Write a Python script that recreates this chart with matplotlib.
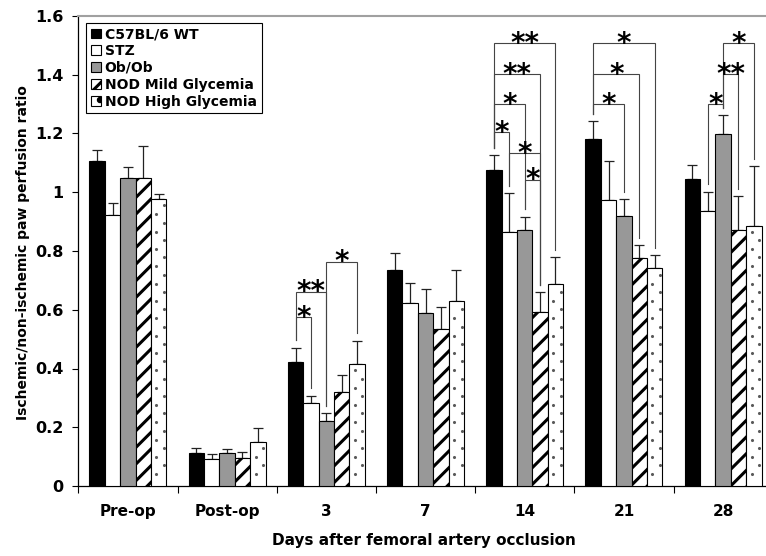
import numpy as np
import matplotlib
matplotlib.use("Agg")
import matplotlib.pyplot as plt
import matplotlib.patches as mpatches

# --- Data ---
groups = ["C57BL/6 WT", "STZ", "Ob/Ob", "NOD Mild Glycemia", "NOD High Glycemia"]
days = ["Pre-op", "Post-op", "3", "7", "14", "21", "28"]
ytick_labels = ["0", "0.2", "0.4", "0.6", "0.8", "1", "1.2", "1.4", "1.6"]

wt_mean = [1.105, 0.113, 0.421, 0.735, 1.077, 1.182, 1.045]
stz_mean = [0.921, 0.091, 0.284, 0.624, 0.864, 0.974, 0.935]
ob_mean = [1.047, 0.113, 0.221, 0.588, 0.871, 0.919, 1.198]
mild_mean = [1.047, 0.097, 0.319, 0.533, 0.593, 0.777, 0.871]
high_mean = [0.976, 0.150, 0.415, 0.629, 0.688, 0.742, 0.884]

wt_sem = [0.040, 0.017, 0.050, 0.059, 0.050, 0.059, 0.049]
stz_sem = [0.044, 0.018, 0.023, 0.066, 0.132, 0.133, 0.067]
ob_sem = [0.040, 0.012, 0.026, 0.083, 0.046, 0.057, 0.064]
mild_sem = [0.109, 0.020, 0.060, 0.076, 0.067, 0.043, 0.116]
high_sem = [0.018, 0.046, 0.080, 0.107, 0.091, 0.044, 0.205]

# significance brackets: (day index, group a, group b, bracket height, label)
brackets = [
    (2, 0, 1, 0.574, "*"), (2, 0, 2, 0.661, "**"), (2, 2, 4, 0.764, "*"),
    (4, 0, 4, 1.507, "**"), (4, 0, 3, 1.401, "**"), (4, 0, 2, 1.299, "*"),
    (4, 0, 1, 1.204, "*"), (4, 1, 3, 1.132, "*"), (4, 2, 3, 1.042, "*"),
    (5, 0, 4, 1.507, "*"), (5, 0, 3, 1.401, "*"), (5, 0, 2, 1.299, "*"),
    (6, 2, 4, 1.507, "*"), (6, 2, 3, 1.401, "**"), (6, 1, 2, 1.299, "*"),
]

means = [wt_mean, stz_mean, ob_mean, mild_mean, high_mean]
sems = [wt_sem, stz_sem, ob_sem, mild_sem, high_sem]

# --- Figure ---
plt.rcParams["font.family"] = ["DejaVu Sans"]
plt.rcParams["font.weight"] = "bold"

fig = plt.figure(figsize=(7.66, 5.56), dpi=100)
ax = fig.add_axes([78.3 / 766, 70 / 556, 694.4 / 766, 470 / 556])

x = np.arange(len(days)) + 0.5
w = 0.155

def set_hlw(patches, lw):
    for p in patches:
        if hasattr(p, "set_hatch_linewidth"):
            p.set_hatch_linewidth(lw)

def dot_texture(ax, pos, heights):
    # sparse staggered gray dots inside the "High Glycemia" bars
    step = 0.059
    for xc, h in zip(pos, heights):
        left = xc - w / 2
        for fx, y0 in ((0.35, 0.04), (0.85, 0.07)):
            ys = np.arange(y0, h - 0.012, step)
            ax.scatter(np.full(len(ys), left + fx * w), ys, s=5, color="#5a5a5a",
                       linewidths=0, zorder=3.5)

for j in range(5):
    pos = x + (j - 2) * w
    m = np.array(means[j])
    e = np.array(sems[j])
    ax.errorbar(pos, m, yerr=[np.zeros_like(e), e], fmt="none", ecolor="#222222",
                elinewidth=0.9, capsize=3.5, capthick=0.9, zorder=2)
    if j == 0:
        ax.bar(pos, m, w, color="black", edgecolor="black", linewidth=0.8, zorder=3)
    elif j == 1:
        ax.bar(pos, m, w, color="white", edgecolor="black", linewidth=0.8, zorder=3)
    elif j == 2:
        ax.bar(pos, m, w, color="#989898", edgecolor="black", linewidth=0.8, zorder=3)
    elif j == 3:
        plt.rcParams["hatch.linewidth"] = 2.2
        b = ax.bar(pos, m, w, color="white", edgecolor="black", hatch="//",
                   linewidth=0.8, zorder=3)
        set_hlw(b, 2.2)
    else:
        ax.bar(pos, m, w, color="white", edgecolor="black", linewidth=0.8, zorder=3)
        dot_texture(ax, pos, m)

# --- significance brackets ---
gap = 0.025
for cat, a, b, h, lab in brackets:
    xa = x[cat] + (a - 2) * w
    xb = x[cat] + (b - 2) * w
    ya = means[a][cat] + sems[a][cat] + gap
    yb = means[b][cat] + sems[b][cat] + gap
    ax.plot([xa, xa, xb, xb], [ya, h, h, yb], color="#444444", lw=0.8,
            zorder=5, solid_joinstyle="miter")
    ax.annotate(lab, ((xa + xb) / 2, h), xytext=(0, -6), textcoords="offset points",
                ha="center", va="baseline", fontsize=20, fontweight="bold", zorder=6)

# --- axes styling ---
ax.set_xlim(0, 7)
ax.set_ylim(0, 1.6)
ax.set_yticks(np.arange(0, 1.61, 0.2))
ax.set_yticklabels(ytick_labels, fontsize=11.5, fontweight="bold")
ax.set_xticks(np.arange(8))
ax.set_xticklabels([])
ax.set_xticks(x, minor=True)
ax.set_xticklabels(days, minor=True, fontsize=11, fontweight="bold")
ax.tick_params(axis="x", which="major", length=5, width=0.8, direction="out")
ax.tick_params(axis="x", which="minor", length=0, pad=13)
ax.tick_params(axis="y", length=4.5, width=0.8, pad=6)

ax.spines["right"].set_visible(False)
ax.spines["top"].set_color("#a0a0a0")
ax.spines["top"].set_linewidth(1.5)
ax.spines["left"].set_linewidth(0.9)
ax.spines["bottom"].set_linewidth(0.9)

fig.text(0.553, 1 - 541 / 556, "Days after femoral artery occlusion", ha="center",
         va="center", fontsize=11, fontweight="bold")
fig.text(0.030, 0.545, "Ischemic/non-ischemic paw perfusion ratio", rotation=90,
         ha="center", va="center", fontsize=10, fontweight="bold")

# --- legend ---
plt.rcParams["hatch.linewidth"] = 2.2
h_mild = mpatches.Patch(facecolor="white", edgecolor="black", hatch="//", lw=0.8)
set_hlw([h_mild], 2.2)
handles = [
    mpatches.Patch(facecolor="black", edgecolor="black", lw=0.8),
    mpatches.Patch(facecolor="white", edgecolor="black", lw=0.8),
    mpatches.Patch(facecolor="#989898", edgecolor="black", lw=0.8),
    h_mild,
    mpatches.Patch(facecolor="white", edgecolor="black", hatch=".", lw=0.8),
]
leg = ax.legend(handles, groups, loc="upper left", bbox_to_anchor=(0.011, 0.986),
                borderaxespad=0, fontsize=10, handlelength=0.7, handleheight=0.7,
                handletextpad=0.3, labelspacing=0.2, borderpad=0.35,
                fancybox=False, framealpha=1, edgecolor="black")
leg.get_frame().set_linewidth(0.8)
for t in leg.get_texts():
    t.set_fontweight("bold")

fig.savefig("out.png", dpi=100)
